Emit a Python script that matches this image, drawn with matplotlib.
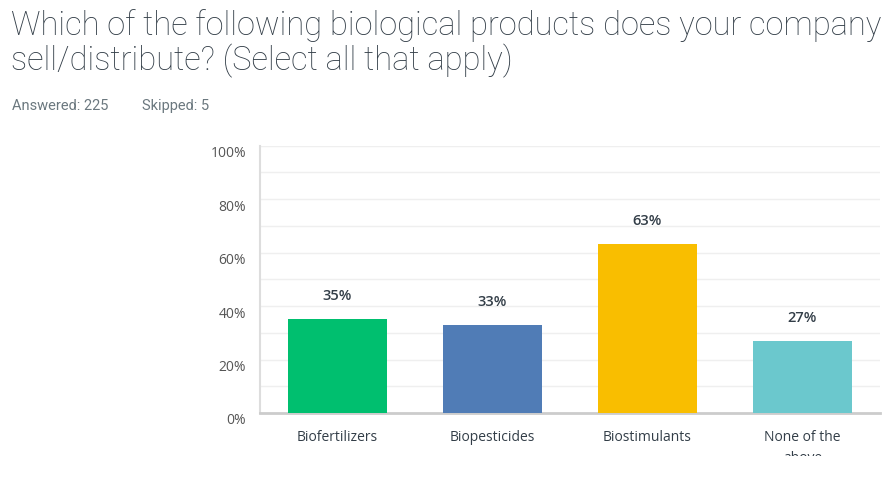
import matplotlib.pyplot as plt
import matplotlib.patches as mpatches
import matplotlib.transforms as mtransforms
from matplotlib.ticker import MultipleLocator

categories = ["Biofertilizers", "Biopesticides", "Biostimulants", "None of the\nabove"]
values = [35, 33, 63, 27]
colors = ["#00BF6F", "#507CB6", "#F9BE00", "#6BC8CD"]
yticks = [0, 20, 40, 60, 80, 100]

plt.rcParams['font.family'] = ['Roboto', 'DejaVu Sans']

fig = plt.figure(figsize=(8.96, 4.83), dpi=100)
ax = fig.add_axes([260 / 896, 70 / 483, 620 / 896, 267.5 / 483])

x = list(range(len(categories)))
ax.bar(x, values, width=0.645, color=colors, zorder=3)
for xi, v in zip(x, values):
    ax.text(xi, v + 6, f"{v}%", ha="center", va="bottom", fontsize=10.5,
            fontweight="semibold", color="#333e48", family=["Open Sans", "DejaVu Sans"])

ax.set_xlim(-0.5, 3.5)
ax.set_ylim(0, 100)
ax.set_yticks(yticks)
ax.set_yticklabels([f"{t}%" for t in yticks])
ax.yaxis.set_minor_locator(MultipleLocator(10))
ax.grid(axis="y", which="both", color="#efefef", linewidth=1, zorder=0)
ax.set_xticks(x)
ax.set_xticklabels(categories)
ax.tick_params(axis="x", length=0, pad=12, labelsize=10, colors="#333e48")
ax.tick_params(axis="y", which="both", length=0, pad=10, labelsize=10, colors="#555555")
for lab in ax.get_xticklabels():
    lab.set_verticalalignment("top")
    lab.set_linespacing(1.6)
    lab.set_family(["Open Sans", "DejaVu Sans"])
shift = mtransforms.ScaledTranslation(0, -6 / 100, fig.dpi_scale_trans)
for lab in ax.get_yticklabels():
    lab.set_family(["Open Sans", "DejaVu Sans"])
    lab.set_transform(lab.get_transform() + shift)

for s in ["top", "right"]:
    ax.spines[s].set_visible(False)
ax.spines["left"].set_color("#dddddd")
ax.spines["left"].set_linewidth(1.5)
ax.spines["bottom"].set_color("#cccccc")
ax.spines["bottom"].set_linewidth(2)

fig.text(11 / 896, 1 - 35 / 483, "Which of the following biological products does your company",
         fontsize=23.5, fontweight="light", color="#333e48")
fig.text(11 / 896, 1 - 70 / 483, "sell/distribute? (Select all that apply)",
         fontsize=23.5, fontweight="light", color="#333e48")
fig.text(12 / 896, 1 - 110 / 483, "Answered: 225", fontsize=10.5, color="#6b787f")
fig.text(142 / 896, 1 - 110 / 483, "Skipped: 5", fontsize=10.5, color="#6b787f")

# bottom of the chart is cut off in the reference
fig.patches.append(mpatches.Rectangle((0, 0), 1, 27 / 483, transform=fig.transFigure,
                                      facecolor="white", edgecolor="none", zorder=10))

fig.savefig("out.png", dpi=100)
